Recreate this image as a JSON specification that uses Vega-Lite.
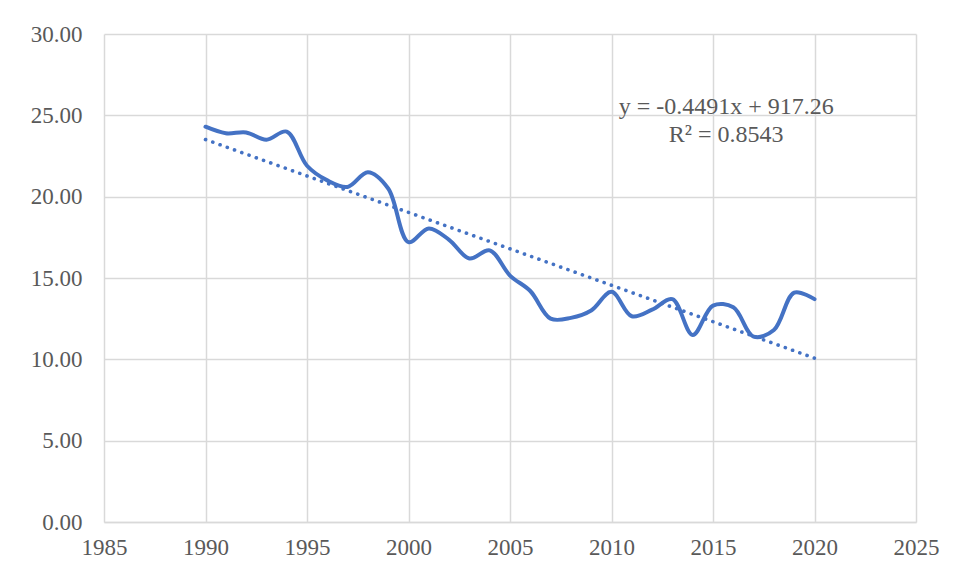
{
  "$schema": "https://vega.github.io/schema/vega-lite/v6.json",
  "autosize": {"type": "none"},
  "width": 812,
  "height": 488,
  "padding": {"left": 104, "top": 34, "right": 45, "bottom": 56},
  "background": "white",
  "config": {
    "font": "Liberation Serif",
    "view": {"stroke": null},
    "axis": {
      "labelFont": "Liberation Serif",
      "labelFontSize": 23,
      "labelColor": "#595959",
      "gridColor": "#d9d9d9",
      "gridWidth": 1.5,
      "domainColor": "#d9d9d9",
      "domainWidth": 1.5,
      "ticks": false,
      "title": null,
      "labelOverlap": false,
      "labelBound": false,
      "labelFlush": false
    }
  },
  "data": {
    "values": [
      {"year": 1990, "value": 24.3},
      {"year": 1991, "value": 23.9},
      {"year": 1992, "value": 23.95},
      {"year": 1993, "value": 23.5},
      {"year": 1994, "value": 24.0},
      {"year": 1995, "value": 21.9},
      {"year": 1996, "value": 21.0},
      {"year": 1997, "value": 20.6},
      {"year": 1998, "value": 21.5},
      {"year": 1999, "value": 20.5},
      {"year": 2000, "value": 17.2},
      {"year": 2001, "value": 18.05},
      {"year": 2002, "value": 17.35},
      {"year": 2003, "value": 16.2},
      {"year": 2004, "value": 16.7},
      {"year": 2005, "value": 15.15},
      {"year": 2006, "value": 14.2},
      {"year": 2007, "value": 12.5},
      {"year": 2008, "value": 12.55},
      {"year": 2009, "value": 13.0},
      {"year": 2010, "value": 14.15},
      {"year": 2011, "value": 12.65},
      {"year": 2012, "value": 13.05},
      {"year": 2013, "value": 13.7},
      {"year": 2014, "value": 11.5},
      {"year": 2015, "value": 13.3},
      {"year": 2016, "value": 13.2},
      {"year": 2017, "value": 11.4},
      {"year": 2018, "value": 11.8},
      {"year": 2019, "value": 14.1},
      {"year": 2020, "value": 13.7}
    ]
  },
  "layer": [
    {
      "mark": {"type": "line", "color": "#4472C4", "strokeWidth": 4, "interpolate": "catmull-rom", "strokeCap": "round"},
      "encoding": {
        "x": {
          "field": "year", "type": "quantitative",
          "scale": {"domain": [1985, 2025], "nice": false, "zero": false},
          "axis": {"values": [1985, 1990, 1995, 2000, 2005, 2010, 2015, 2020, 2025], "format": "d", "labelPadding": 14}
        },
        "y": {
          "field": "value", "type": "quantitative",
          "scale": {"domain": [0, 30], "nice": false},
          "axis": {"values": [0, 5, 10, 15, 20, 25, 30], "format": ".2f", "labelPadding": 22, "domain": false}
        }
      }
    },
    {
      "transform": [{"regression": "value", "on": "year", "extent": [1990, 2020]}],
      "mark": {"type": "line", "color": "#4472C4", "strokeWidth": 3.6, "strokeDash": [0.1, 7.6], "strokeCap": "round"},
      "encoding": {
        "x": {"field": "year", "type": "quantitative"},
        "y": {"field": "value", "type": "quantitative"}
      }
    },
    {
      "data": {"values": [{"label": ["y = -0.4491x + 917.26", "R² = 0.8543"]}]},
      "mark": {"type": "text", "font": "Liberation Serif", "fontSize": 24, "color": "#595959", "align": "center", "baseline": "middle", "lineHeight": 28},
      "encoding": {
        "x": {"datum": 2015.65, "type": "quantitative"},
        "y": {"datum": 25.5, "type": "quantitative"},
        "text": {"field": "label"}
      }
    }
  ]
}
